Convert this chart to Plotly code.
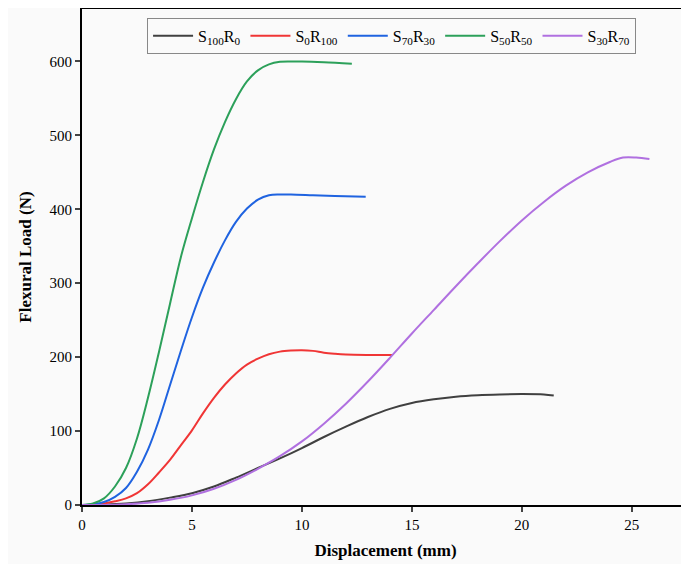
import plotly.graph_objects as go

# S100R0 (black)
s100r0_x = [0, 1, 2, 3, 4, 5, 6, 7, 8, 9, 10, 11, 12, 13, 14, 15, 16, 17, 18, 19, 20, 21, 21.45]
s100r0_y = [0, 0.5, 2, 5, 10, 16, 25, 37, 50, 63, 77, 92, 106, 119, 130, 138, 143, 146.5, 148.5, 149.5, 150, 149.5, 148]

# S0R100 (red)
s0r100_x = [0, 0.5, 1.0, 1.5, 2.0, 2.5, 3.0, 3.5, 4.0, 4.5, 5.0, 5.5, 6.0, 6.5, 7.0, 7.5, 8.0, 8.5, 9.0, 9.5, 10.0, 10.5, 11.0, 11.5, 12.0, 13.0, 14.1]
s0r100_y = [0, 0.5, 2, 5, 9, 16, 28, 44, 61, 81, 101, 124, 145, 163, 178, 190, 198, 204, 207.5, 209, 209.5, 208.5, 206, 204.5, 203.5, 203, 203]

# S70R30 (blue)
s70r30_x = [0, 0.5, 1.0, 1.5, 2.0, 2.5, 3.0, 3.5, 4.0, 4.5, 5.0, 5.5, 6.0, 6.5, 7.0, 7.5, 8.0, 8.5, 9.0, 9.5, 10.5, 11.5, 12.9]
s70r30_y = [0, 1, 4, 11, 23, 45, 75, 115, 162, 209, 254, 294, 328, 358, 383, 401, 413, 419, 420, 420, 419, 418, 417]

# S50R50 (green)
s50r50_x = [0, 0.5, 1.0, 1.5, 2.0, 2.5, 3.0, 3.5, 4.0, 4.5, 5.0, 5.5, 6.0, 6.5, 7.0, 7.5, 8.0, 8.5, 9.0, 9.5, 10.0, 11.0, 12.27]
s50r50_y = [0, 2, 9, 25, 50, 90, 145, 207, 272, 336, 388, 437, 481, 518, 549, 573, 588, 596, 599.5, 600, 600, 599, 597]

# S30R70 (purple)
s30r70_x = [0, 1, 2, 3, 4, 5, 6, 7, 8, 9, 10, 11, 12, 13, 14, 15, 16, 17, 18, 19, 20, 21, 22, 23, 24, 24.6, 25.2, 25.8]
s30r70_y = [0, 0, 1, 3, 7, 13, 22, 34, 49, 66, 86, 110, 137, 167, 199, 232, 264, 296, 327, 357, 385, 410, 432, 450, 464, 470, 470, 468]

x_ticks = [0, 5, 10, 15, 20, 25]
y_ticks = [0, 100, 200, 300, 400, 500, 600]

series = [
    ("S<sub>100</sub>R<sub>0</sub>", s100r0_x, s100r0_y, "#404040"),
    ("S<sub>0</sub>R<sub>100</sub>", s0r100_x, s0r100_y, "#f03535"),
    ("S<sub>70</sub>R<sub>30</sub>", s70r30_x, s70r30_y, "#1f63e0"),
    ("S<sub>50</sub>R<sub>50</sub>", s50r50_x, s50r50_y, "#2ca05a"),
    ("S<sub>30</sub>R<sub>70</sub>", s30r70_x, s30r70_y, "#b070e0"),
]

fig = go.Figure()
for name, xs, ys, col in series:
    fig.add_trace(go.Scatter(x=xs, y=ys, mode="lines", name=name,
                             line=dict(color=col, width=2, shape="spline", smoothing=1.0)))

font_family = "Liberation Serif, Times New Roman, serif"
# the page adds an 8px body margin, so the figure is sized to fill the rest
fig.update_layout(
    width=681, height=556,
    margin=dict(l=74, r=0, t=1, b=59),
    paper_bgcolor="#fafafa", plot_bgcolor="#fafafa",
    font=dict(family=font_family, size=15, color="black"),
    showlegend=True,
    legend=dict(orientation="h", x=0.51, xanchor="center", y=0.982, yanchor="top",
                bgcolor="rgba(0,0,0,0)", bordercolor="#888888", borderwidth=1,
                font=dict(family=font_family, size=16), itemwidth=40,
                tracegroupgap=0),
)
fig.update_xaxes(range=[0, 27.6], tickvals=x_ticks, ticks="outside", ticklen=5, tickwidth=1.5,
                 showline=True, linecolor="black", linewidth=2, mirror=True,
                 showgrid=False, zeroline=False,
                 title=dict(text="<b>Displacement (mm)</b>", font=dict(size=17, family=font_family), standoff=12),
                 tickfont=dict(size=15))
fig.update_yaxes(range=[0, 671], tickvals=y_ticks, ticks="outside", ticklen=5, tickwidth=1.5,
                 showline=True, linecolor="black", linewidth=2,
                 showgrid=False, zeroline=False,
                 title=dict(text="<b>Flexural Load (N)</b>", font=dict(size=17, family=font_family), standoff=14),
                 tickfont=dict(size=15))

fig.write_html("out.html")
